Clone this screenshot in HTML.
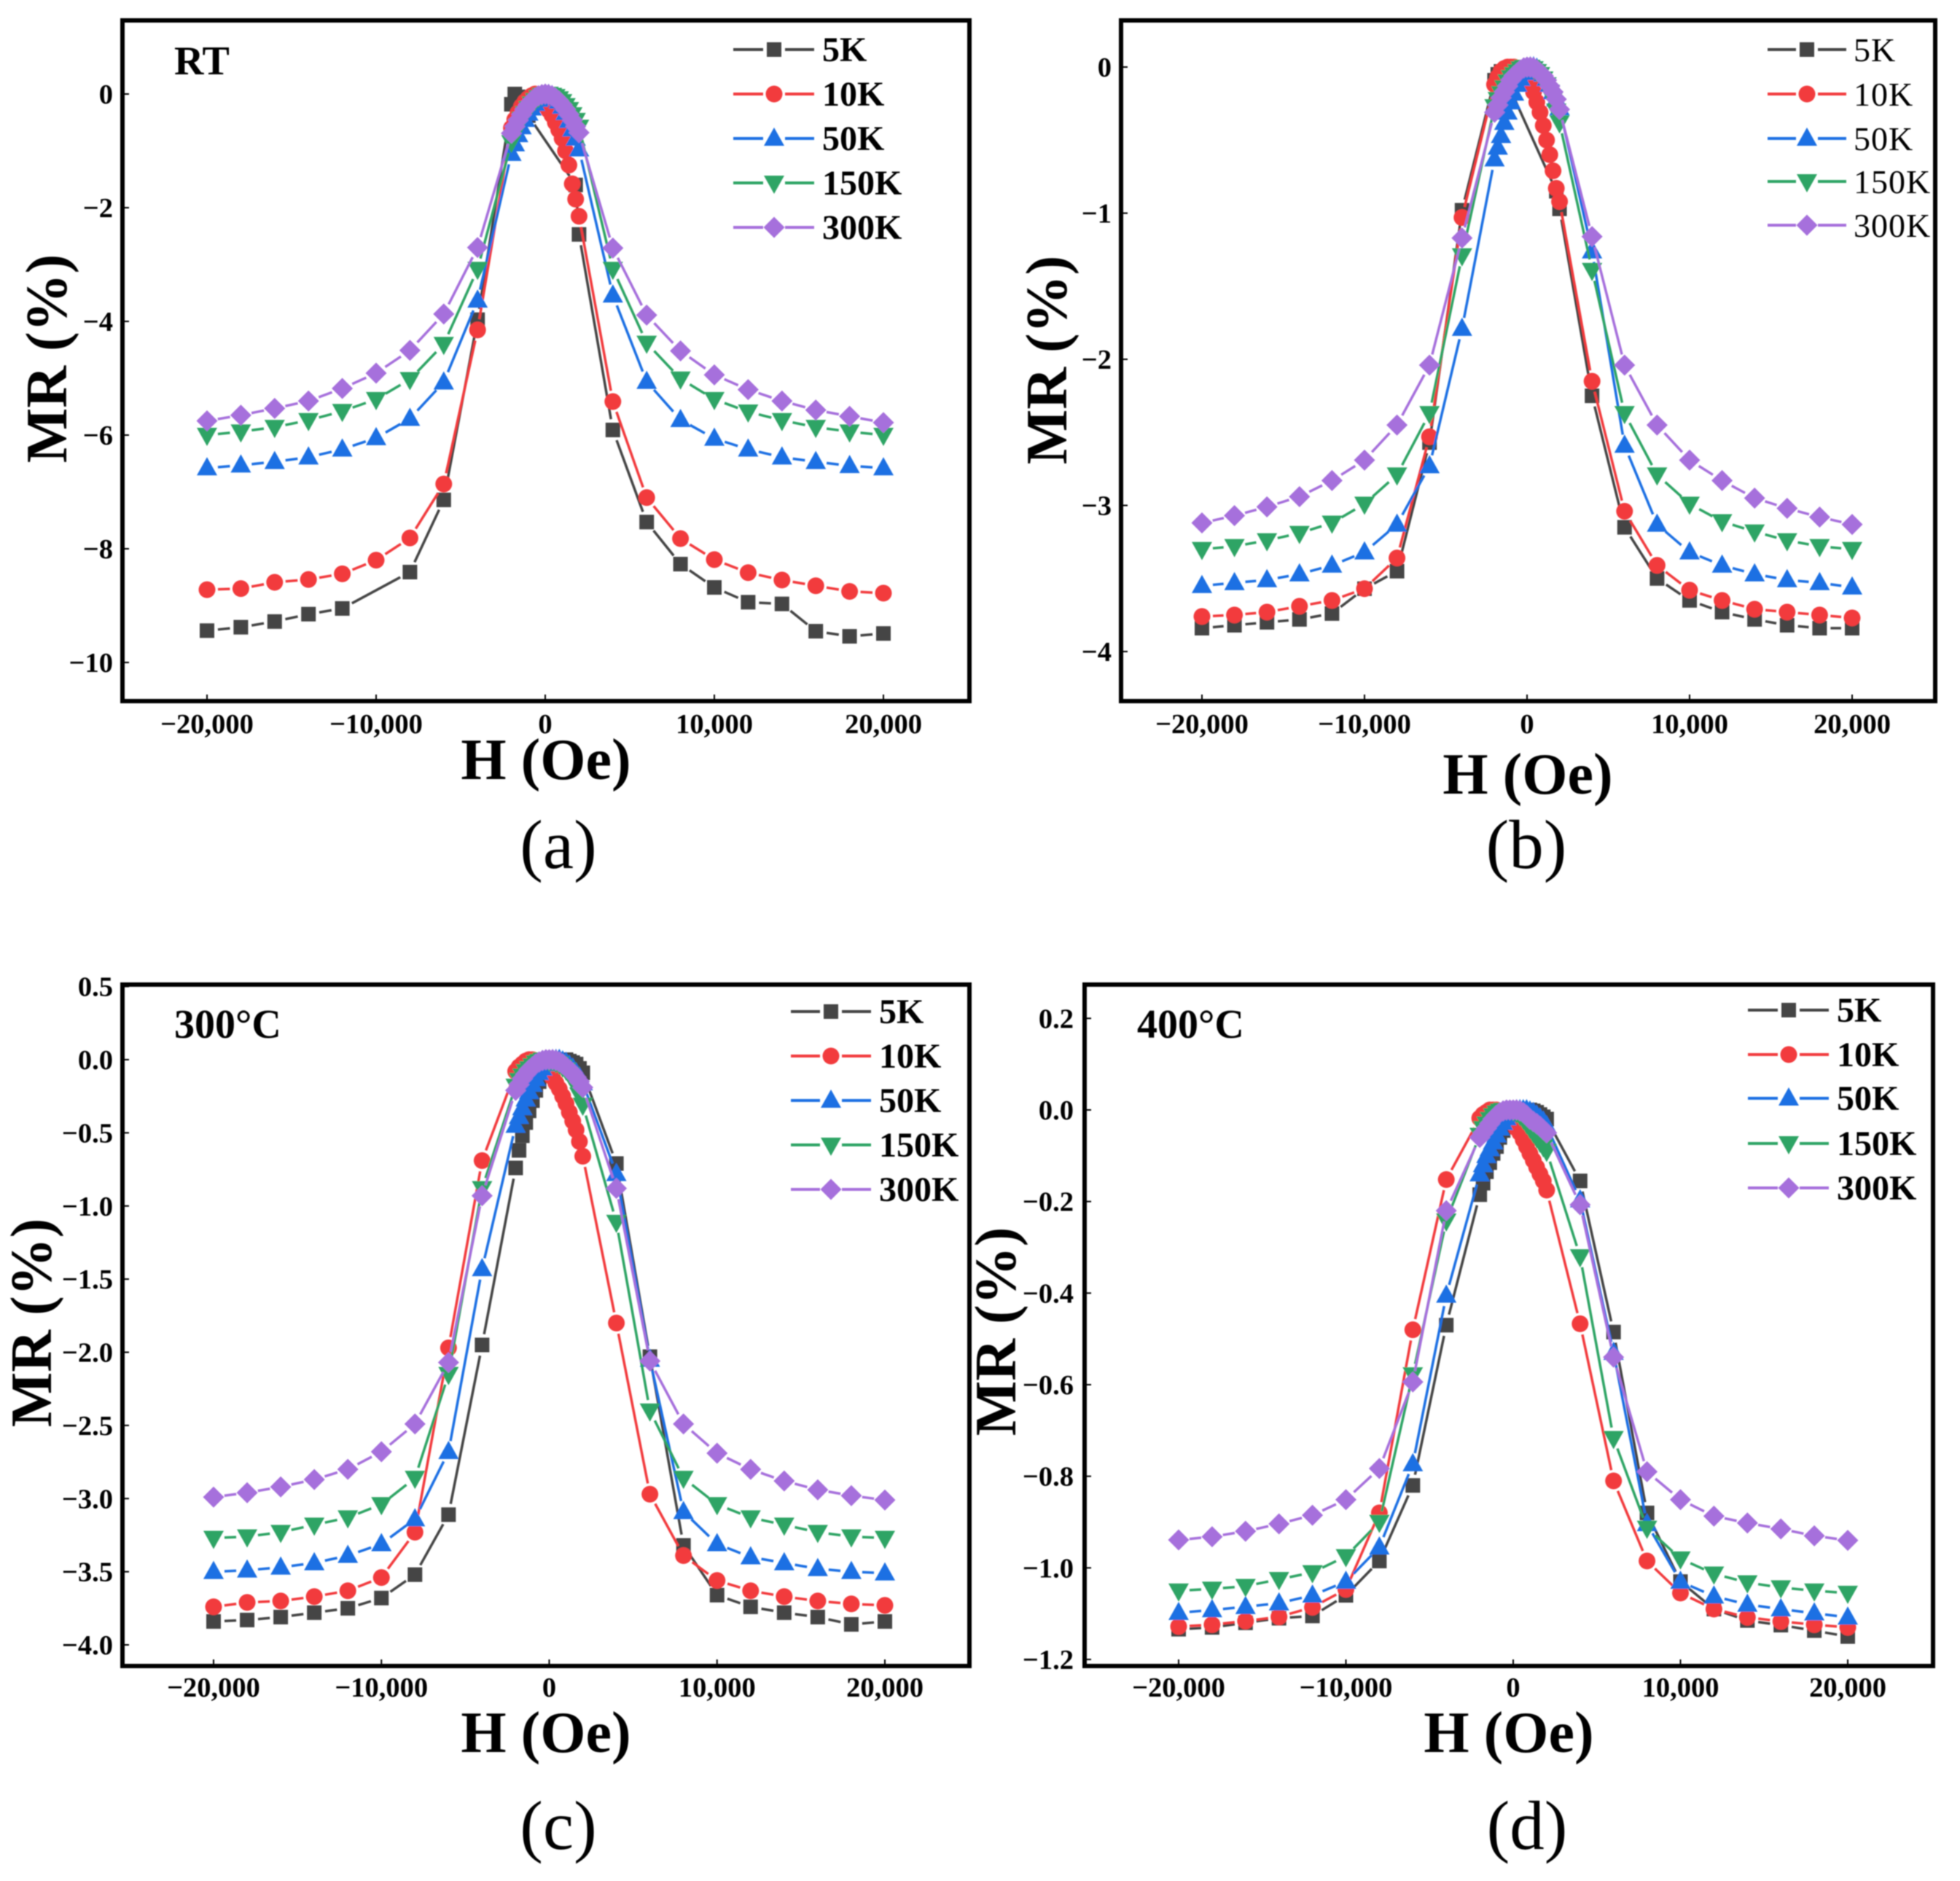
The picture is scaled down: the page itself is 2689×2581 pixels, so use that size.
<!DOCTYPE html>
<html>
<head>
<meta charset="utf-8">
<title>MR vs H panels</title>
<style>
html,body{margin:0;padding:0;background:#fff;}
svg{display:block;}
text{font-family:"Liberation Serif",serif;fill:#000;}
.tick{font-size:38.5px;font-weight:bold;}
.title{font-size:80px;font-weight:bold;text-anchor:middle;}
.cap{font-size:95px;text-anchor:middle;}
.tag{font-size:56px;font-weight:bold;}
.leg{font-size:48px;font-weight:bold;}
.legb{font-size:46px;font-weight:normal;letter-spacing:1px;}
.frame{fill:none;stroke:#000;stroke-width:6;}
</style>
</head>
<body>
<svg id="chart" xmlns="http://www.w3.org/2000/svg" width="2689" height="2581" viewBox="0 0 2689 2581">
<defs><filter id="soft" x="-2%" y="-2%" width="104%" height="104%"><feGaussianBlur stdDeviation="0.7"/></filter></defs>
<rect width="2689" height="2581" fill="#fff"/>
<g id="all" filter="url(#soft)">
<g id="panel-a">
<rect class="frame" x="168" y="28" width="1162" height="934"/>
<text class="tag" x="239" y="102">RT</text>
<text class="title" x="749" y="1069">H (Oe)</text>
<text class="title" transform="translate(91,492) rotate(-90)">MR (%)</text>
<text class="cap" x="766" y="1191">(a)</text>
</g>
<g id="panel-b">
<rect class="frame" x="1538" y="28" width="1117" height="934"/>
<text class="title" x="2096" y="1089">H (Oe)</text>
<text class="title" transform="translate(1463,494) rotate(-90)">MR (%)</text>
<text class="cap" x="2094" y="1191">(b)</text>
</g>
<g id="panel-c">
<rect class="frame" x="168" y="1351" width="1162" height="935"/>
<text class="tag" x="239" y="1424">300°C</text>
<text class="title" x="749" y="2404">H (Oe)</text>
<text class="title" transform="translate(70,1815) rotate(-90)">MR (%)</text>
<text class="cap" x="766" y="2537">(c)</text>
</g>
<g id="panel-d">
<rect class="frame" x="1488" y="1351" width="1164" height="935"/>
<text class="tag" x="1560" y="1424">400°C</text>
<text class="title" x="2070" y="2404">H (Oe)</text>
<text class="title" transform="translate(1393,1827) rotate(-90)">MR (%)</text>
<text class="cap" x="2095" y="2537">(d)</text>
</g>
</g>
</svg>
<script>
// Applied field (Oe) shared by every series
const fields = [-20000,-18000,-16000,-14000,-12000,-10000,-8000,-6000,-4000,
 -2000,-1800,-1600,-1400,-1200,-1000,-800,-600,-400,-200,0,200,400,600,800,1000,1200,1400,1600,1800,2000,
 4000,6000,8000,10000,12000,14000,16000,18000,20000];

const seriesNames = ['5K','10K','50K','150K','300K'];
const xTickValues = [-20000,-10000,0,10000,20000];
const xTickLabels = ['−20,000','−10,000','0','10,000','20,000'];

const yTicksA = [0,-2,-4,-6,-8,-10];
const yLabelsA = ['0','−2','−4','−6','−8','−10'];
const yTicksB = [0,-1,-2,-3,-4];
const yLabelsB = ['0','−1','−2','−3','−4'];
const yTicksC = [0.5,0,-0.5,-1,-1.5,-2,-2.5,-3,-3.5,-4];
const yLabelsC = ['0.5','0.0','−0.5','−1.0','−1.5','−2.0','−2.5','−3.0','−3.5','−4.0'];
const yTicksD = [0.2,0,-0.2,-0.4,-0.6,-0.8,-1,-1.2];
const yLabelsD = ['0.2','0.0','−0.2','−0.4','−0.6','−0.8','−1.0','−1.2'];

// Panel (a) RT
const a5K = [-9.44,-9.38,-9.28,-9.15,-9.05,null,-8.41,-7.14,-3.97,
 -.18,0,-.05,-.1,-.2,-.38,null,null,null,null,null,null,null,null,null,null,null,null,null,-1.6,-2.47,
 -5.91,-7.53,-8.27,-8.68,-8.94,-8.97,-9.45,-9.54,-9.49];
const a10K = [-8.72,-8.70,-8.59,-8.54,-8.44,-8.20,-7.81,-6.86,-4.15,
 -.6,-.45,-.33,-.22,-.14,-.08,-.03,0,-.02,-.1,-.2,-.28,-.37,-.5,-.63,-.78,-1.0,-1.25,-1.58,-1.85,-2.15,
 -5.41,-7.10,-7.82,-8.19,-8.42,-8.55,-8.65,-8.75,-8.78];
const a50K = [-6.58,-6.53,-6.47,-6.39,-6.25,-6.05,-5.71,-5.07,-3.63,
 -1.05,-.88,-.72,-.58,-.45,-.34,-.25,-.17,-.1,-.05,-.02,-.01,-.03,-.07,-.13,-.22,-.33,-.47,-.62,-.78,-.97,
 -3.54,-5.06,-5.73,-6.06,-6.25,-6.39,-6.47,-6.54,-6.58];
const a150K = [-6.00,-5.94,-5.86,-5.74,-5.58,-5.37,-5.02,-4.40,-3.08,
 -.85,-.7,-.56,-.44,-.34,-.25,-.17,-.11,-.06,-.02,0,0,-.02,-.04,-.08,-.13,-.2,-.27,-.36,-.46,-.58,
 -3.08,-4.38,-5.01,-5.37,-5.59,-5.74,-5.86,-5.94,-6.00];
const a300K = [-5.75,-5.65,-5.53,-5.40,-5.18,-4.91,-4.51,-3.87,-2.70,
 -.69,-.57,-.46,-.36,-.27,-.19,-.12,-.07,-.03,-.01,0,-.01,-.03,-.07,-.12,-.19,-.27,-.36,-.46,-.57,-.68,
 -2.71,-3.89,-4.52,-4.94,-5.2,-5.4,-5.56,-5.67,-5.78];

// Panel (b)
const b5K = [-3.84,-3.82,-3.80,-3.78,-3.74,-3.57,-3.45,-2.57,-.98,
 -.09,-.05,-.03,-.05,-.09,-.16,null,null,null,null,null,null,null,null,null,null,null,null,null,-.85,-.97,
 -2.25,-3.15,-3.50,-3.65,-3.73,-3.78,-3.82,-3.84,-3.84];
const b10K = [-3.76,-3.75,-3.73,-3.69,-3.65,-3.57,-3.36,-2.53,-1.03,
 -.12,-.07,-.03,-.01,0,0,0,-.01,-.02,-.04,-.07,-.12,-.17,-.24,-.31,-.4,-.5,-.6,-.71,-.83,-.92,
 -2.15,-3.04,-3.41,-3.58,-3.65,-3.71,-3.73,-3.75,-3.77];
const b50K = [-3.55,-3.53,-3.51,-3.47,-3.41,-3.32,-3.13,-2.73,-1.79,
 -.63,-.55,-.47,-.38,-.31,-.24,-.18,-.12,-.08,-.04,-.02,0,0,-.01,-.03,-.05,-.08,-.12,-.17,-.22,-.28,
 -1.26,-2.59,-3.13,-3.32,-3.41,-3.47,-3.51,-3.53,-3.56];
const b150K = [-3.30,-3.28,-3.24,-3.19,-3.12,-2.99,-2.79,-2.37,-1.29,
 -.27,-.22,-.18,-.14,-.1,-.07,-.05,-.03,-.01,0,0,0,-.01,-.03,-.05,-.08,-.12,-.17,-.22,-.3,-.38,
 -1.39,-2.37,-2.79,-2.99,-3.11,-3.18,-3.24,-3.28,-3.30];
const b300K = [-3.12,-3.07,-3.01,-2.94,-2.83,-2.69,-2.45,-2.04,-1.17,
 -.31,-.26,-.21,-.17,-.13,-.09,-.06,-.04,-.02,-.005,0,0,-.005,-.02,-.04,-.06,-.09,-.13,-.17,-.22,-.29,
 -1.16,-2.04,-2.45,-2.69,-2.83,-2.95,-3.02,-3.08,-3.13];

// Panel (c) 300°C
const c5K = [-3.84,-3.83,-3.81,-3.78,-3.75,-3.68,-3.52,-3.11,-1.95,
 -.74,-.62,-.52,-.43,-.35,-.28,-.21,-.15,-.1,-.07,-.04,-.02,0,0,0,0,-.01,-.02,-.03,-.06,-.09,
 -.71,-2.03,-3.32,-3.66,-3.74,-3.78,-3.81,-3.86,-3.84];
const c10K = [-3.74,-3.71,-3.70,-3.67,-3.63,-3.54,-3.23,-1.97,-.69,
 -.08,-.05,-.03,-.01,0,0,-.01,-.02,-.03,-.05,-.08,-.12,-.16,-.2,-.25,-.3,-.36,-.42,-.48,-.56,-.66,
 -1.80,-2.97,-3.39,-3.56,-3.63,-3.67,-3.70,-3.72,-3.73];
const c50K = [-3.50,-3.49,-3.47,-3.44,-3.39,-3.31,-3.14,-2.68,-1.43,
 -.45,-.39,-.33,-.27,-.22,-.17,-.13,-.09,-.06,-.03,-.01,0,0,0,-.01,-.02,-.04,-.06,-.09,-.12,-.16,
 -.78,-2.05,-3.09,-3.31,-3.40,-3.44,-3.48,-3.50,-3.51];
const c150K = [-3.27,-3.26,-3.23,-3.18,-3.13,-3.04,-2.86,-2.15,-.88,
 -.18,-.14,-.11,-.08,-.06,-.04,-.02,-.01,0,0,-.01,-.01,-.02,-.03,-.05,-.07,-.1,-.14,-.18,-.24,-.31,
 -1.11,-2.40,-2.86,-3.04,-3.13,-3.18,-3.23,-3.26,-3.27];
const c300K = [-2.99,-2.96,-2.92,-2.87,-2.80,-2.68,-2.49,-2.07,-.93,
 -.21,-.17,-.13,-.1,-.07,-.05,-.03,-.015,-.005,0,0,0,-.005,-.015,-.03,-.05,-.07,-.09,-.12,-.15,-.19,
 -.88,-2.06,-2.49,-2.69,-2.80,-2.88,-2.94,-2.98,-3.01];

// Panel (d) 400°C
const d5K = [-1.134,-1.13,-1.12,-1.11,-1.105,-1.06,-.985,-.82,-.47,
 -.185,-.16,-.135,-.115,-.095,-.08,-.06,-.045,-.03,-.02,-.01,-.005,0,0,0,0,-.002,-.005,-.01,-.015,-.02,
 -.155,-.485,-.88,-1.03,-1.09,-1.115,-1.125,-1.137,-1.15];
const d10K = [-1.128,-1.124,-1.116,-1.107,-1.086,-1.047,-.88,-.48,-.152,
 -.018,-.01,-.005,0,0,0,-.003,-.008,-.013,-.02,-.03,-.04,-.05,-.065,-.08,-.095,-.11,-.125,-.14,-.155,-.175,
 -.467,-.81,-.985,-1.055,-1.09,-1.108,-1.117,-1.124,-1.13];
const d50K = [-1.098,-1.092,-1.085,-1.077,-1.06,-1.03,-.955,-.773,-.405,
 -.14,-.12,-.1,-.085,-.07,-.055,-.04,-.028,-.018,-.01,-.004,0,0,0,0,-.003,-.006,-.012,-.018,-.025,-.035,
 -.197,-.53,-.904,-1.03,-1.062,-1.08,-1.09,-1.099,-1.108];
const d150K = [-1.05,-1.046,-1.04,-1.025,-1.01,-.975,-.9,-.578,-.242,
 -.055,-.04,-.03,-.02,-.012,-.006,-.002,0,0,0,-.002,-.006,-.012,-.02,-.03,-.04,-.05,-.06,-.07,-.08,-.09,
 -.32,-.717,-.913,-.98,-1.013,-1.032,-1.043,-1.05,-1.055];
const d300K = [-.939,-.932,-.92,-.904,-.885,-.851,-.783,-.594,-.22,
 -.06,-.05,-.04,-.03,-.02,-.012,-.006,-.002,0,0,0,0,-.002,-.006,-.012,-.02,-.025,-.03,-.036,-.043,-.05,
 -.207,-.54,-.79,-.851,-.887,-.902,-.915,-.93,-.94];

const NS = 'http://www.w3.org/2000/svg';
const palette = ['#454545','#f23a3c','#1a6fe3','#2fa465','#a66fdc'];
const shapes = ['square','circle','up','down','diamond'];

function make(parent, tag, attrs){
  const el = document.createElementNS(NS, tag);
  for (const k in attrs) el.setAttribute(k, attrs[k]);
  parent.appendChild(el);
  return el;
}
function linearScale(v0, p0, v1, p1){
  return function(v){ return p0 + (v - v0) * (p1 - p0) / (v1 - v0); };
}
function drawMarker(g, kind, x, y, color){
  let el;
  if (kind === 'square') el = make(g, 'rect', {x:x-10, y:y-10, width:20, height:20, fill:color});
  else if (kind === 'circle') el = make(g, 'circle', {cx:x, cy:y, r:11.5, fill:color});
  else if (kind === 'up') el = make(g, 'polygon', {points:(x-14)+','+(y+10)+' '+(x+14)+','+(y+10)+' '+x+','+(y-15), fill:color});
  else if (kind === 'down') el = make(g, 'polygon', {points:(x-14)+','+(y-10)+' '+(x+14)+','+(y-10)+' '+x+','+(y+15), fill:color});
  else el = make(g, 'polygon', {points:x+','+(y-14.5)+' '+(x+14.5)+','+y+' '+x+','+(y+14.5)+' '+(x-14.5)+','+y, fill:color});
  
  
}
function drawSeries(parent, name, values, kind, color, sx, sy){
  const g = make(parent, 'g', {});
  
  
  const pts = [];
  fields.forEach(function(f, i){
    if (values[i] !== null) pts.push([sx(f), sy(values[i])]);
  });
  const gap = 15;
  for (let i = 0; i < pts.length - 1; i++){
    const dx = pts[i+1][0]-pts[i][0], dy = pts[i+1][1]-pts[i][1];
    const d = Math.hypot(dx, dy);
    if (d <= gap * 2) continue;
    const ux = dx/d, uy = dy/d;
    const seg = make(g, 'line', {x1:pts[i][0]+ux*gap, y1:pts[i][1]+uy*gap, x2:pts[i+1][0]-ux*gap, y2:pts[i+1][1]-uy*gap, stroke:color, 'stroke-width':3.5});
    
    
  }
  pts.forEach(function(p){ drawMarker(g, kind, p[0], p[1], color); });
}
function drawPanel(p){
  const root = document.getElementById(p.id);
  const sx = linearScale(-20000, p.x20n, 20000, p.x20p);
  const sy = linearScale(p.yRef0, p.pxRef0, p.yRef1, p.pxRef1);
  xTickValues.forEach(function(v, i){
    const t = make(root, 'text', {class:'tick', x:sx(v), y:p.xTickY, 'text-anchor':'middle'});
    
    
    t.textContent = xTickLabels[i];
    const m = make(root, 'line', {x1:sx(v), x2:sx(v), y1:p.bottom-9, y2:p.bottom, stroke:'#000', 'stroke-width':2});
    
    
  });
  p.yTicks.forEach(function(v, i){
    const y = sy(v);
    const t = make(root, 'text', {class:'tick', x:p.yLabelX, y:y+13, 'text-anchor':'end'});
    
    
    t.textContent = p.yLabels[i];
    const m = make(root, 'line', {x1:p.left, x2:p.left+9, y1:y, y2:y, stroke:'#000', 'stroke-width':2});
    
    
  });
  p.series.forEach(function(vals, i){
    drawSeries(root, seriesNames[i], vals, shapes[i], palette[i], sx, sy);
  });
  seriesNames.forEach(function(name, i){
    const g = make(root, 'g', {});
    
    
    const y = p.legendY[i];
    const l1 = make(g, 'line', {x1:p.legendX0, x2:p.legendM-15, y1:y, y2:y, stroke:palette[i], 'stroke-width':4});
    
    
    const l2 = make(g, 'line', {x1:p.legendM+15, x2:p.legendX1, y1:y, y2:y, stroke:palette[i], 'stroke-width':4});
    
    
    drawMarker(g, shapes[i], p.legendM, y, palette[i]);
    const t = make(g, 'text', {class:p.legendClass, x:p.legendText, y:y+16});
    
    
    t.textContent = name;
  });
}

drawPanel({id:'panel-a', x20n:284, x20p:1212, yRef0:0, pxRef0:129, yRef1:-10, pxRef1:909, left:168, bottom:962, xTickY:1006, yLabelX:155,
  yTicks:yTicksA, yLabels:yLabelsA, series:[a5K,a10K,a50K,a150K,a300K],
  legendY:[68,129,190,251,312], legendX0:1006, legendX1:1117, legendM:1062, legendText:1128, legendClass:'leg'});
drawPanel({id:'panel-b', x20n:1649, x20p:2541, yRef0:0, pxRef0:92, yRef1:-4, pxRef1:894, left:1538, bottom:962, xTickY:1006, yLabelX:1525,
  yTicks:yTicksB, yLabels:yLabelsB, series:[b5K,b10K,b50K,b150K,b300K],
  legendY:[68,129,190,249,309], legendX0:2425, legendX1:2533, legendM:2479, legendText:2543, legendClass:'legb'});
drawPanel({id:'panel-c', x20n:293, x20p:1214, yRef0:0, pxRef0:1454, yRef1:-4, pxRef1:2257, left:168, bottom:2286, xTickY:2328, yLabelX:155,
  yTicks:yTicksC, yLabels:yLabelsC, series:[c5K,c10K,c50K,c150K,c300K],
  legendY:[1388,1449,1510,1571,1632], legendX0:1085, legendX1:1195, legendM:1140, legendText:1206, legendClass:'leg'});
drawPanel({id:'panel-d', x20n:1617, x20p:2535, yRef0:0, pxRef0:1523, yRef1:-1.2, pxRef1:2277, left:1488, bottom:2286, xTickY:2328, yLabelX:1473,
  yTicks:yTicksD, yLabels:yLabelsD, series:[d5K,d10K,d50K,d150K,d300K],
  legendY:[1386,1447,1507,1569,1630], legendX0:2398, legendX1:2509, legendM:2454, legendText:2520, legendClass:'leg'});
</script>
</body>
</html>
